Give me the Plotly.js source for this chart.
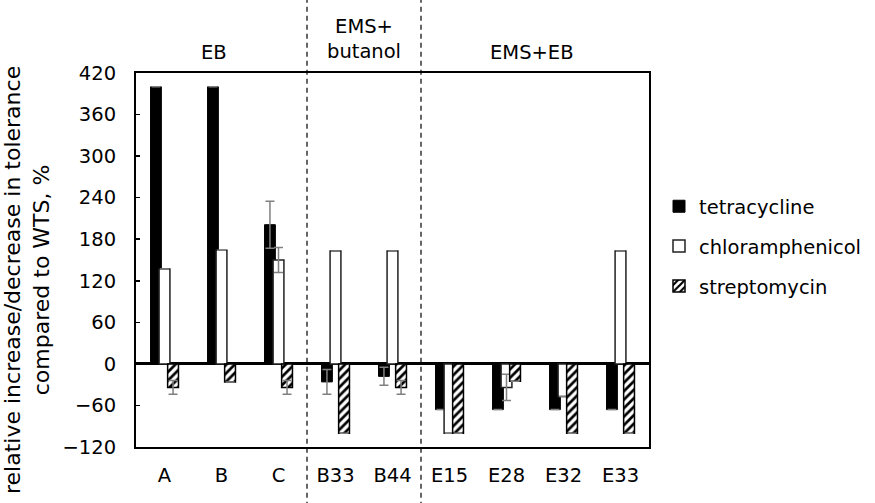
<!DOCTYPE html>
<html>
<head>
<meta charset="utf-8">
<script src="https://cdn.plot.ly/plotly-3.0.1.min.js"></script>
<style>html,body{margin:0;padding:0;background:#fff;}#chart{width:875px;height:503px;}</style>
</head>
<body>
<div id="chart"></div>
<script>
var categories = ["A", "B", "C", "B33", "B44", "E15", "E28", "E32", "E33"];
var seriesNames = ["tetracycline", "chloramphenicol", "streptomycin"];
var tetracycline = [400, 400, 201, -26, -18, -66, -66, -66, -66];
var tetracyclineErr = [0, 0, 34, 18, 13, 0, 0, 0, 0];
var chloramphenicol = [137, 164, 150, 163, 163, -100, -34, -47, 163];
var chloramphenicolErr = [0, 0, 18, 0, 0, 0, 19, 0, 0];
var streptomycin = [-34, -26, -34, -100, -34, -100, -25, -100, -100];
var streptomycinErr = [10, 0, 10, 0, 10, 0, 0, 0, 0];
var yTicks = [-120, -60, 0, 60, 120, 180, 240, 300, 360, 420];
var groupLabels = ["EB", "EMS+<br>butanol", "EMS+EB"];

var FONT = "DejaVu Sans";
var FS = 19.5;
var barW = 0.19;
var step = 0.15;

function errObj(arr) {
  return {type: "data", array: arr, visible: true, color: "#808080", thickness: 1.5, width: 4.5};
}

var traces = [
  {type: "bar", name: seriesNames[0], x: categories, y: tetracycline, width: barW, offset: -step - barW / 2,
   marker: {color: "#000000", line: {color: "#000000", width: 1}},
   error_y: errObj(tetracyclineErr), legendgroup: "g1"},
  {type: "bar", name: seriesNames[1], x: categories, y: chloramphenicol, width: barW, offset: -barW / 2,
   marker: {color: "#ffffff", line: {color: "#222222", width: 1.5}},
   error_y: errObj(chloramphenicolErr), legendgroup: "g2"},
  {type: "bar", name: seriesNames[2], x: categories, y: streptomycin, width: barW, offset: step - barW / 2,
   marker: {color: "#ffffff", line: {color: "#000000", width: 1.5},
            pattern: {shape: "/", fgcolor: "#000000", bgcolor: "#ffffff", size: 6, solidity: 0.45}},
   error_y: errObj(streptomycinErr), legendgroup: "g3"}
];

var groupX = [0.87, 3.5, 6.45];
var annotations = [];
for (var i = 0; i < groupLabels.length; i++) {
  annotations.push({
    text: groupLabels[i], x: groupX[i], xref: "x",
    y: i === 1 ? 1.092 : 1.056, yref: "paper",
    xanchor: "center", yanchor: "middle", showarrow: false,
    font: {family: FONT, size: FS, color: "#000"}
  });
}
annotations.push({
  text: "relative increase/decrease in tolerance<br>compared to WTS, %",
  x: -0.2125, xref: "paper", y: 0.4465, yref: "paper",
  xanchor: "center", yanchor: "middle", textangle: -90, showarrow: false,
  font: {family: FONT, size: 22, color: "#000"}
});

var dash = {color: "#000", width: 1.2, dash: "5px,4px"};
var shapes = [
  {type: "line", xref: "x", yref: "paper", x0: 2.5, x1: 2.5, y0: -0.16, y1: 1.2, line: dash},
  {type: "line", xref: "x", yref: "paper", x0: 4.5, x1: 4.5, y0: -0.16, y1: 1.2, line: dash}
];

var layout = {
  width: 875, height: 503,
  margin: {l: 136, r: 226, t: 73, b: 56, pad: 0, autoexpand: false},
  paper_bgcolor: "#fff", plot_bgcolor: "#fff",
  barmode: "overlay",
  showlegend: true,
  font: {family: FONT, size: FS, color: "#000"},
  xaxis: {
    type: "category", range: [-0.5, 8.5], showgrid: false, zeroline: false,
    showline: true, linecolor: "#000", linewidth: 2, mirror: true,
    ticks: "", ticklabelstandoff: 10, automargin: false,
    tickfont: {family: FONT, size: FS, color: "#000"}
  },
  yaxis: {
    range: [-120, 420], tickvals: yTicks, showgrid: false,
    zeroline: true, zerolinecolor: "#000", zerolinewidth: 3,
    showline: true, linecolor: "#000", linewidth: 2, mirror: true,
    ticks: "inside", ticklen: 4, tickcolor: "#000", tickwidth: 1.5,
    ticklabelstandoff: 14, automargin: false,
    tickfont: {family: FONT, size: FS, color: "#000"}
  },
  legend: {
    x: 1.0195, xanchor: "left", y: 0.695, yanchor: "top",
    font: {family: FONT, size: FS, color: "#000"},
    tracegroupgap: 11.5, bgcolor: "rgba(0,0,0,0)", itemwidth: 30
  },
  annotations: annotations,
  shapes: shapes
};

Plotly.newPlot("chart", traces, layout, {displayModeBar: false, staticPlot: true});
</script>
</body>
</html>
